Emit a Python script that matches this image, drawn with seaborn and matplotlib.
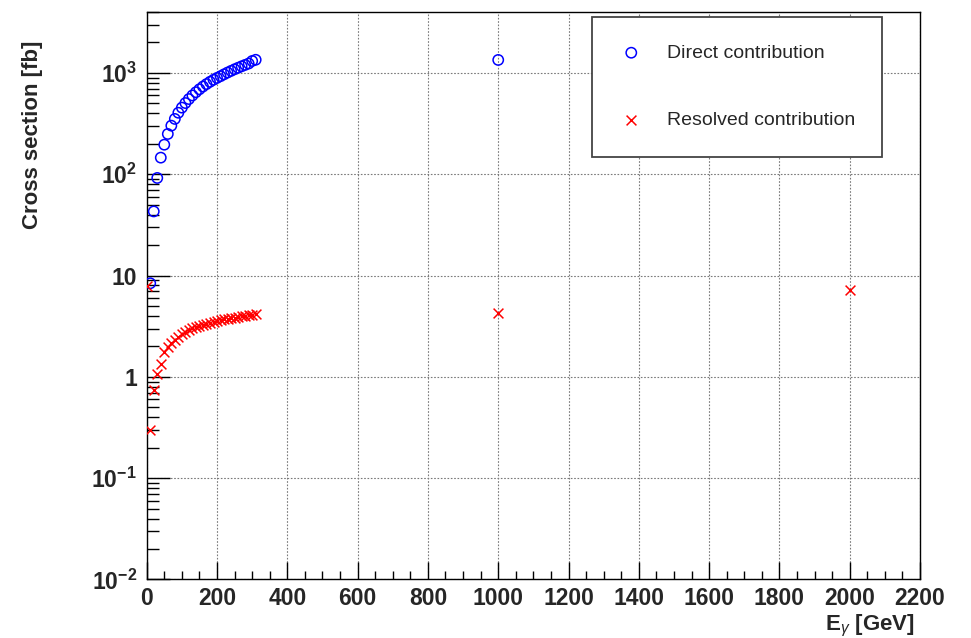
import numpy as np
import pandas as pd
import matplotlib
matplotlib.use("Agg")
import matplotlib.pyplot as plt
import seaborn as sns
from matplotlib.ticker import MultipleLocator, LogLocator, NullFormatter

# Direct contribution (blue circles)
direct_energy = [10, 20, 30, 40, 50, 60, 70, 80, 90, 100,
                 110, 120, 130, 140, 150, 160, 170, 180, 190, 200,
                 210, 220, 230, 240, 250, 260, 270, 280, 290, 300,
                 310, 1000]
direct_xsec = [8.4, 43, 92, 146, 196, 250, 302, 352, 405, 455,
               505, 553, 600, 646, 691, 735, 777, 818, 857, 894,
               930, 970, 1010, 1049, 1088, 1126, 1164, 1202, 1240, 1314,
               1350, 1345]

# Resolved contribution (red crosses)
resolved_energy = [0, 10, 20, 30, 40, 50, 60, 70, 80, 90, 100,
                   110, 120, 130, 140, 150, 160, 170, 180, 190, 200,
                   210, 220, 230, 240, 250, 260, 270, 280, 290, 300,
                   310, 1000, 2000]
resolved_xsec = [7.9, 0.30, 0.75, 1.08, 1.34, 1.78, 1.98, 2.16, 2.33, 2.50, 2.65,
                 2.78, 2.90, 3.01, 3.11, 3.20, 3.28, 3.36, 3.43, 3.50, 3.57,
                 3.63, 3.69, 3.75, 3.80, 3.85, 3.90, 3.95, 4.00, 4.05, 4.10,
                 4.15, 4.24, 7.26]

xtick_values = [0, 200, 400, 600, 800, 1000, 1200, 1400, 1600, 1800, 2000, 2200]
xtick_labels = [str(v) for v in xtick_values]
ytick_values = [1e-2, 1e-1, 1, 10, 1e2, 1e3]
ytick_labels = [r"$\mathbf{10^{-2}}$", r"$\mathbf{10^{-1}}$", "1", "10",
                r"$\mathbf{10^{2}}$", r"$\mathbf{10^{3}}$"]

direct = pd.DataFrame({"energy": direct_energy, "xsec": direct_xsec})
resolved = pd.DataFrame({"energy": resolved_energy, "xsec": resolved_xsec})

sns.set_style("ticks")
plt.rcParams["font.family"] = ["Liberation Sans", "DejaVu Sans"]
plt.rcParams["mathtext.fontset"] = "custom"
plt.rcParams["mathtext.rm"] = "Liberation Sans"
plt.rcParams["mathtext.it"] = "Liberation Sans:italic"
plt.rcParams["mathtext.bf"] = "Liberation Sans:bold"

fig = plt.figure(figsize=(9.71, 6.38), dpi=100)
ax = fig.add_axes([0.1511, 0.0917, 0.7964, 0.8895])

sns.scatterplot(data=direct, x="energy", y="xsec", marker="o", s=55,
                facecolors="none", edgecolor="blue", linewidth=1.1,
                label="Direct contribution", ax=ax, zorder=3)
sns.scatterplot(data=resolved, x="energy", y="xsec", marker="x", s=50,
                color="red", linewidth=1.1,
                label="Resolved contribution", ax=ax, zorder=3)

ax.set_yscale("log")
ax.set_xlim(0, 2200)
ax.set_ylim(0.01, 4000)

ax.set_xticks(xtick_values)
ax.set_xticklabels(xtick_labels, fontweight="bold")
ax.xaxis.set_minor_locator(MultipleLocator(50))
ax.set_yticks(ytick_values)
ax.set_yticklabels(ytick_labels, fontweight="bold")
ax.yaxis.set_minor_locator(LogLocator(base=10, subs=np.arange(2, 10)))
ax.yaxis.set_minor_formatter(NullFormatter())

ax.tick_params(which="both", direction="in", top=False, right=False,
               width=1, color="black", labelsize=16.5)
ax.tick_params(axis="x", which="major", length=12, pad=5.5)
ax.tick_params(axis="x", which="minor", length=6)
ax.tick_params(axis="y", which="major", length=16.5, pad=7)
ax.tick_params(axis="y", which="minor", length=8.5)

ax.set_axisbelow(True)
ax.grid(True, which="major", color="#7a7a7a", linestyle=(0, (1.5, 1.5)),
        linewidth=0.8)
for sp in ax.spines.values():
    sp.set_color("black")
    sp.set_linewidth(1)

ax.set_xlabel("")
ax.set_ylabel("")
fig.text(915 / 971, 1 - 630 / 638, r"E$_{\gamma}$ [GeV]", ha="right",
         va="baseline", fontsize=16, fontweight="bold")
fig.text(33 / 971, 1 - 135 / 638, "Cross section [fb]", rotation=90,
         ha="center", va="center", fontsize=16, fontweight="bold")

leg = ax.legend(loc="upper left", bbox_to_anchor=(592 / 971, 1 - 17 / 638),
                bbox_transform=fig.transFigure, borderaxespad=0,
                fancybox=False, frameon=True, fontsize=14,
                borderpad=1.4, labelspacing=2.57, handlelength=1.24,
                handletextpad=1.2, scatterpoints=1)
leg.get_frame().set_edgecolor("#444444")
leg.get_frame().set_linewidth(1.3)
leg.get_frame().set_alpha(1)

fig.savefig("out.png", dpi=100, facecolor="white")
